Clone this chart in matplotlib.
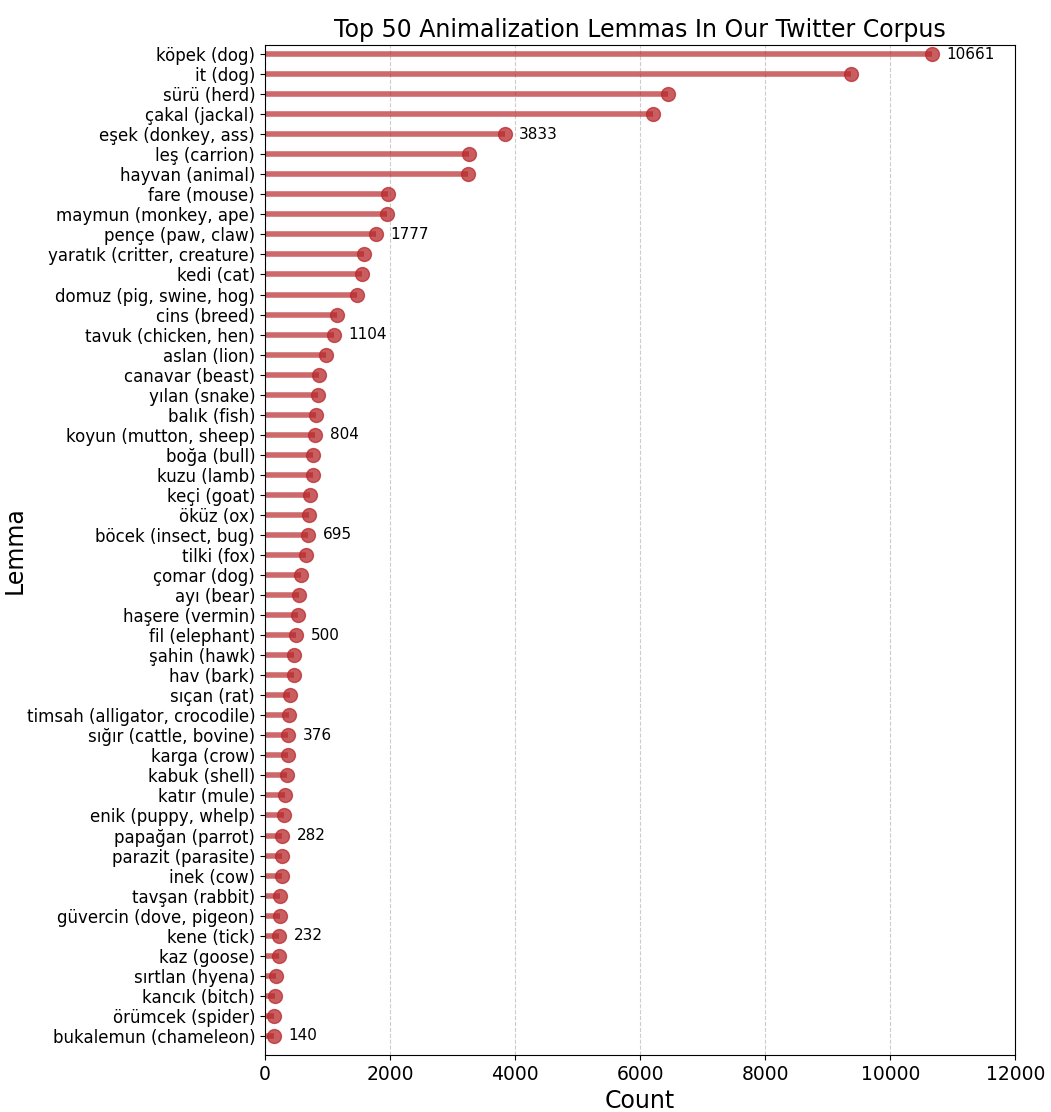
import numpy as np
import matplotlib
matplotlib.use("Agg")
import matplotlib.pyplot as plt

lemmas = [
    "köpek (dog)", "it (dog)", "sürü (herd)", "çakal (jackal)", "eşek (donkey, ass)",
    "leş (carrion)", "hayvan (animal)", "fare (mouse)", "maymun (monkey, ape)", "pençe (paw, claw)",
    "yaratık (critter, creature)", "kedi (cat)", "domuz (pig, swine, hog)", "cins (breed)", "tavuk (chicken, hen)",
    "aslan (lion)", "canavar (beast)", "yılan (snake)", "balık (fish)", "koyun (mutton, sheep)",
    "boğa (bull)", "kuzu (lamb)", "keçi (goat)", "öküz (ox)", "böcek (insect, bug)",
    "tilki (fox)", "çomar (dog)", "ayı (bear)", "haşere (vermin)", "fil (elephant)",
    "şahin (hawk)", "hav (bark)", "sıçan (rat)", "timsah (alligator, crocodile)", "sığır (cattle, bovine)",
    "karga (crow)", "kabuk (shell)", "katır (mule)", "enik (puppy, whelp)", "papağan (parrot)",
    "parazit (parasite)", "inek (cow)", "tavşan (rabbit)", "güvercin (dove, pigeon)", "kene (tick)",
    "kaz (goose)", "sırtlan (hyena)", "kancık (bitch)", "örümcek (spider)", "bukalemun (chameleon)",
]
counts = [
    10661, 9370, 6440, 6200, 3833,
    3270, 3250, 1970, 1950, 1777,
    1590, 1560, 1470, 1160, 1104,
    980, 870, 850, 820, 804,
    770, 765, 720, 700, 695,
    660, 580, 540, 525, 500,
    465, 460, 400, 390, 376,
    365, 355, 320, 300, 282,
    275, 270, 245, 240, 232,
    225, 185, 170, 150, 140,
]

color = "#b8282c"
n = len(lemmas)
y = np.arange(n)[::-1]

fig, ax = plt.subplots(figsize=(10.51, 11.12), dpi=100)
fig.subplots_adjust(left=0.252, right=0.966, top=0.9595, bottom=0.0513)

ax.hlines(y, 0, counts, color=color, alpha=0.7, linewidth=4)
ax.plot(counts, y, "o", color=color, alpha=0.75, markersize=10)

# label the top lemma and every fifth one after it
for i in range(n):
    if i == 0 or (i + 1) % 5 == 0:
        ax.text(counts[i] + 230, y[i], str(counts[i]), va="center", ha="left", fontsize=11)

ax.set_yticks(y)
ax.set_yticklabels(lemmas, fontsize=12)
ax.set_xlim(0, 12000)
ax.set_ylim(-0.95, n - 1 + 0.45)
ax.tick_params(axis="x", labelsize=13.5)
ax.xaxis.grid(True, linestyle="--", color="gray", alpha=0.4)
ax.set_axisbelow(True)
ax.set_xlabel("Count", fontsize=17)
ax.set_ylabel("Lemma", fontsize=17, labelpad=0)
ax.set_title("Top 50 Animalization Lemmas In Our Twitter Corpus", fontsize=17)

fig.savefig("out.png", dpi=100)
